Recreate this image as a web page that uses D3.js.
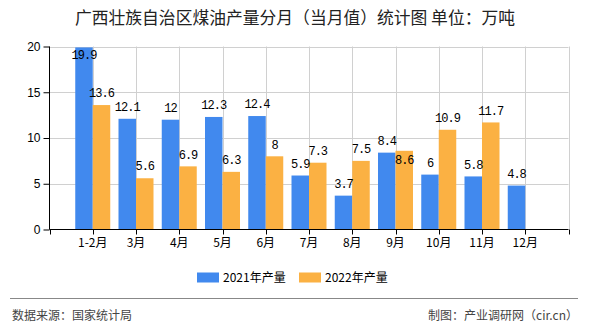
<!DOCTYPE html>
<html>
<head>
<meta charset="utf-8">
<script src="https://cdn.jsdelivr.net/npm/d3@7"></script>
<style>
  html, body { margin: 0; padding: 0; background: #fff; }
  svg { display: block; }
</style>
</head>
<body>
<svg id="chart" width="590" height="330"></svg>
<script>
const categories = ["1-2月", "3月", "4月", "5月", "6月", "7月", "8月", "9月", "10月", "11月", "12月"];
const seriesNames = ["2021年产量", "2022年产量"];
const values2021 = [19.9, 12.1, 12, 12.3, 12.4, 5.9, 3.7, 8.4, 6, 5.8, 4.8];
const values2022 = [13.6, 5.6, 6.9, 6.3, 8, 7.3, 7.5, 8.6, 10.9, 11.7, null];
const yTicks = [0, 5, 10, 15, 20];
const titleText = "广西壮族自治区煤油产量分月（当月值）统计图 单位：万吨";
const sourceText = "数据来源：国家统计局";
const creditText = "制图：产业调研网（cir.cn）";

(function () {
const colors = ["#4189ee", "#fbb143"];
const svg = d3.select("#chart");
const pL = 49.5, pR = 568.5, pT = 46.5, pB = 229.5;
const x = d3.scalePoint().domain(categories).range([pL, pR]).padding(1);
const y = d3.scaleLinear().domain([0, 20]).range([pB, pT]);
const barW = 17.5;
const cjk = "'Noto Sans CJK SC', 'Noto Sans', sans-serif";
const mono = "'Liberation Mono', 'DejaVu Sans Mono', monospace";

// title
svg.append("text").attr("x", 295).attr("y", 24).attr("text-anchor", "middle")
  .attr("font-family", cjk).attr("font-size", 16.8).attr("fill", "#222").text(titleText);

// grid
const grid = svg.append("g");
grid.selectAll("line.h").data(yTicks.filter(d => d > 0)).enter().append("line")
  .attr("x1", pL).attr("x2", pR).attr("y1", d => Math.round(y(d)) + 0.5).attr("y2", d => Math.round(y(d)) + 0.5)
  .attr("stroke", "#d0d0d0").attr("stroke-width", 1);
const vPos = categories.map(c => x(c)).concat([pR]);
grid.selectAll("line.v").data(vPos).enter().append("line")
  .attr("x1", d => Math.round(d) + 0.5).attr("x2", d => Math.round(d) + 0.5).attr("y1", pT).attr("y2", pB)
  .attr("stroke", "#d0d0d0").attr("stroke-width", 1);

// bars
const series = [values2021, values2022];
series.forEach((vals, si) => {
  svg.append("g").selectAll("rect").data(categories.map((c, i) => ({c, v: vals[i]})).filter(d => d.v != null))
    .enter().append("rect")
    .attr("x", d => si === 0 ? x(d.c) - barW : x(d.c))
    .attr("width", barW)
    .attr("y", d => y(d.v))
    .attr("height", d => y(0) - y(d.v))
    .attr("fill", colors[si]);
});

// labels with simple overlap avoidance
const labels = [];
series.forEach((vals, si) => {
  categories.forEach((c, i) => {
    const v = vals[i];
    if (v == null) return;
    const cx = si === 0 ? x(c) - barW / 2 : x(c) + barW / 2;
    let cy = y(v) - 12;
    if (cy < 55) cy = 55;
    const w = String(v).length * 6;
    labels.push({si, i, v, cx, cy, w});
  });
});
labels.filter(l => l.si === 1).forEach(l => {
  const o = labels.find(k => k.si === 0 && k.i === l.i);
  if (o && Math.abs(o.cy - l.cy) < 11 && Math.abs(o.cx - l.cx) < (o.w + l.w) / 2) {
    l.cy = y(l.v) + 9;
  }
});
svg.append("g").selectAll("text").data(labels).enter().append("text")
  .attr("x", d => d.cx).attr("y", d => d.cy).attr("dy", "0.35em")
  .attr("text-anchor", "middle").attr("font-family", mono).attr("font-size", 12)
  .attr("letter-spacing", "-1px").attr("fill", "#000").text(d => d.v);

// axes
const yAxis = d3.axisLeft(y).tickValues(yTicks).tickSize(6).tickPadding(3);
const gy = svg.append("g").attr("transform", `translate(${pL},0)`).call(yAxis);
gy.select(".domain").attr("stroke", "#000").attr("d", `M0,${pT}V${pB}`);
gy.selectAll(".tick line").attr("stroke", "#000");
gy.selectAll(".tick text").attr("font-family", "'Liberation Sans', Arial, sans-serif").attr("font-size", 12).attr("fill", "#000");

const gx = svg.append("g").attr("transform", `translate(0,${pB})`);
gx.append("line").attr("x1", pL).attr("x2", pR).attr("y1", 0).attr("y2", 0).attr("stroke", "#000");
gx.selectAll("line.t").data([pL].concat(vPos)).enter().append("line")
  .attr("x1", d => Math.round(d) + 0.5).attr("x2", d => Math.round(d) + 0.5).attr("y1", 0).attr("y2", 5).attr("stroke", "#000");
gx.selectAll("text").data(categories).enter().append("text")
  .attr("x", d => x(d)).attr("y", 13.5).attr("dy", "0.35em").attr("text-anchor", "middle")
  .attr("font-family", cjk).attr("font-size", 12).attr("fill", "#000").text(d => d);

// legend
const legendItems = [{x: 197, tx: 223}, {x: 299, tx: 325}];
seriesNames.forEach((n, i) => {
  svg.append("rect").attr("x", legendItems[i].x).attr("y", 272.5).attr("width", 22).attr("height", 10).attr("fill", colors[i]);
  svg.append("text").attr("x", legendItems[i].tx).attr("y", 277.5).attr("dy", "0.35em")
    .attr("font-family", cjk).attr("font-size", 12).attr("fill", "#000").text(n);
});

// footer
svg.append("line").attr("x1", 10).attr("x2", 578).attr("y1", 298.5).attr("y2", 298.5).attr("stroke", "#888").attr("stroke-width", 1.2);
svg.append("text").attr("x", 12).attr("y", 316).attr("dy", "0.35em").attr("font-family", cjk).attr("font-size", 12).attr("fill", "#444").text(sourceText);
svg.append("text").attr("x", 578).attr("y", 316).attr("dy", "0.35em").attr("text-anchor", "end").attr("font-family", cjk).attr("font-size", 12).attr("fill", "#444").text(creditText);
})();
</script>
</body>
</html>
